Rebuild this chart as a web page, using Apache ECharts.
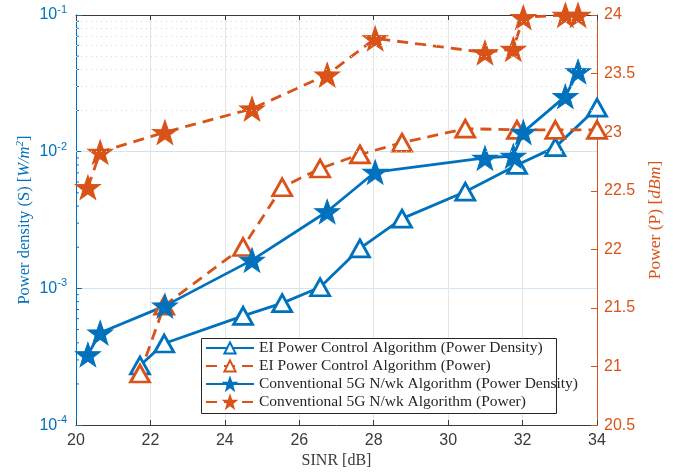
<!DOCTYPE html>
<html>
<head>
<meta charset="utf-8">
<script src="https://cdn.jsdelivr.net/npm/echarts@6/dist/echarts.min.js"></script>
<style>
  html, body { margin: 0; padding: 0; background: #fff; }
  #main { width: 673px; height: 474px; }
</style>
</head>
<body>
<div id="main"></div>
<script>
// x positions (SINR, dB)
var xEI = [21.72, 22.37, 24.49, 25.54, 26.56, 27.63, 28.76, 30.46, 31.85, 32.88, 34.0];
var xConv = [20.32, 20.65, 22.39, 24.73, 26.75, 28.04, 30.99, 31.75, 32.02, 33.15, 33.49];
// power density (W/m^2), left log axis
var eiDensity = [2.73e-4, 3.95e-4, 6.3e-4, 7.8e-4, 1.02e-3, 1.96e-3, 3.24e-3, 5.1e-3, 8.0e-3, 1.08e-2, 2.1e-2];
var convDensity = [3.28e-4, 4.74e-4, 7.45e-4, 1.61e-3, 3.65e-3, 7.1e-3, 9.0e-3, 9.3e-3, 1.39e-2, 2.54e-2, 3.86e-2];
// power (dBm), right axis
var eiPower = [20.94, 21.52, 22.02, 22.53, 22.69, 22.81, 22.91, 23.03, 23.02, 23.02, 23.02];
var convPower = [22.53, 22.83, 23.0, 23.2, 23.49, 23.8, 23.68, 23.71, 23.98, 24.0, 24.0];
// minor log grid positions
var minorTicks = [];
[1e-4, 1e-3, 1e-2].forEach(function (d) {
  for (var k = 2; k <= 9; k++) minorTicks.push(k * d);
});
var names = [
  'EI Power Control Algorithm (Power Density)',
  'EI Power Control Algorithm (Power)',
  'Conventional 5G N/wk Algorithm (Power Density)',
  'Conventional 5G N/wk Algorithm (Power)'
];

var BLUE = '#0072BD', ORANGE = '#D95319';
var SERIF = '"Liberation Serif", "DejaVu Serif", serif';
var SANS = '"Liberation Sans", Arial, sans-serif';

function zip(xs, ys) {
  return xs.map(function (x, i) { return [x, ys[i]]; });
}
// pentagram marker
function starPath() {
  var p = [];
  for (var i = 0; i < 10; i++) {
    var r = i % 2 ? 0.4 : 1;
    var a = (-90 + i * 36) * Math.PI / 180;
    p.push((i ? 'L' : 'M') + (r * Math.cos(a)).toFixed(3) + ' ' + (r * Math.sin(a)).toFixed(3));
  }
  return 'path://' + p.join(' ') + ' Z';
}
var STAR = starPath();

function lineSeries(name, data, color, yIdx, dashed, star) {
  return {
    name: name,
    type: 'line',
    yAxisIndex: yIdx,
    data: data,
    symbol: star ? STAR : 'triangle',
    symbolSize: star ? [25, 24] : [19, 17],
    showAllSymbol: true,
    lineStyle: { color: color, width: 2.8, type: dashed ? [11, 7] : 'solid' },
    itemStyle: star ? { color: color, borderColor: color, borderWidth: 1 }
                    : { color: '#fff', borderColor: color, borderWidth: 2.8 },
    z: 3
  };
}

var myChart = echarts.init(document.getElementById('main'));
myChart.setOption({
  animation: false,
  grid: { left: 76, right: 76, top: 15, bottom: 46, containLabel: false },
  graphic: [{
    type: 'rect',
    left: 201, top: 338,
    shape: { width: 355, height: 75 },
    style: { fill: '#fff', stroke: '#262626', lineWidth: 1 },
    z: 50
  }],
  legend: {
    orient: 'vertical',
    left: 201,
    top: 338,
    data: names,
    itemWidth: 48,
    itemHeight: 14,
    itemGap: 2,
    padding: [2, 4, 2, 4],
    z: 60,
    textStyle: { fontFamily: SERIF, fontSize: 15.5, color: '#262626' }
  },
  xAxis: [{
    type: 'value',
    min: 20, max: 34, interval: 2,
    name: 'SINR [dB]',
    nameLocation: 'middle',
    nameGap: 27,
    nameTextStyle: { fontFamily: SERIF, fontSize: 16, color: '#3a3a3a' },
    axisLine: { lineStyle: { color: '#3a3a3a', width: 1 } },
    axisTick: { inside: true, length: 5, lineStyle: { color: '#3a3a3a' } },
    axisLabel: { fontFamily: SANS, fontSize: 16, color: '#3a3a3a', margin: 7 },
    splitLine: { show: true, lineStyle: { color: '#e5e5e5', width: 1 } }
  }, {
    type: 'value',
    position: 'top',
    min: 20, max: 34, interval: 2,
    axisLine: { lineStyle: { color: '#3a3a3a', width: 1 } },
    axisTick: { inside: true, length: 5, lineStyle: { color: '#3a3a3a' } },
    axisLabel: { show: false },
    splitLine: { show: false }
  }],
  yAxis: [{
    type: 'log',
    logBase: 10,
    min: 1e-4, max: 1e-1,
    position: 'left',
    name: 'Power density (S) [{i|W/m}{sup|2}]',
    nameLocation: 'middle',
    nameRotate: 90,
    nameGap: 42,
    nameMoveOverlap: false,
    nameTextStyle: {
      fontFamily: SERIF, fontSize: 16.5, color: BLUE,
      rich: {
        i: { fontFamily: SERIF, fontStyle: 'italic', fontSize: 16.5, color: BLUE },
        sup: { fontFamily: SERIF, fontStyle: 'italic', fontSize: 11, color: BLUE, verticalAlign: 'top', padding: [0, 0, 8, 0] }
      }
    },
    axisLine: { show: true, lineStyle: { color: BLUE, width: 1 } },
    axisTick: { inside: true, length: 6, lineStyle: { color: BLUE } },
    axisLabel: {
      color: BLUE, fontFamily: SANS, fontSize: 16, margin: 9,
      formatter: function (v) {
        return '10{sup|' + Math.round(Math.log10(v)) + '}';
      },
      rich: {
        sup: { fontFamily: SANS, fontSize: 11, color: BLUE, verticalAlign: 'top', padding: [0, 0, 10, 0] }
      }
    },
    splitLine: { show: true, lineStyle: { color: '#d3e5f2', width: 1 } }
  }, {
    type: 'value',
    min: 20.5, max: 24, interval: 0.5,
    position: 'right',
    name: 'Power (P) [{i|dBm}]',
    nameLocation: 'middle',
    nameRotate: 90,
    nameGap: 45,
    nameTextStyle: {
      fontFamily: SERIF, fontSize: 17.5, color: ORANGE,
      rich: { i: { fontFamily: SERIF, fontStyle: 'italic', fontSize: 17.5, color: ORANGE } }
    },
    axisLine: { show: true, lineStyle: { color: ORANGE, width: 1 } },
    axisTick: { inside: true, length: 6, lineStyle: { color: ORANGE } },
    axisLabel: { color: ORANGE, fontFamily: SANS, fontSize: 16, margin: 7 },
    splitLine: { show: false }
  }],
  series: [{
    type: 'line',
    yAxisIndex: 0,
    data: [],
    silent: true,
    z: 1,
    markLine: {
      silent: true,
      symbol: 'none',
      label: { show: false },
      lineStyle: { color: '#c4dcee', type: [1, 4], width: 1 },
      data: minorTicks.map(function (v) { return { yAxis: v }; })
    }
  }, {
    // short minor ticks on the left log axis
    type: 'custom',
    yAxisIndex: 0,
    silent: true,
    z: 2,
    data: minorTicks.map(function (v) { return [20, v]; }),
    renderItem: function (params, api) {
      var p = api.coord([api.value(0), api.value(1)]);
      return {
        type: 'line',
        shape: { x1: p[0], y1: p[1], x2: p[0] + 3, y2: p[1] },
        style: { stroke: BLUE, lineWidth: 1 }
      };
    }
  },
    lineSeries(names[0], zip(xEI, eiDensity), BLUE, 0, false, false),
    lineSeries(names[1], zip(xEI, eiPower), ORANGE, 1, true, false),
    lineSeries(names[2], zip(xConv, convDensity), BLUE, 0, false, true),
    lineSeries(names[3], zip(xConv, convPower), ORANGE, 1, true, true)
  ]
});
</script>
</body>
</html>
